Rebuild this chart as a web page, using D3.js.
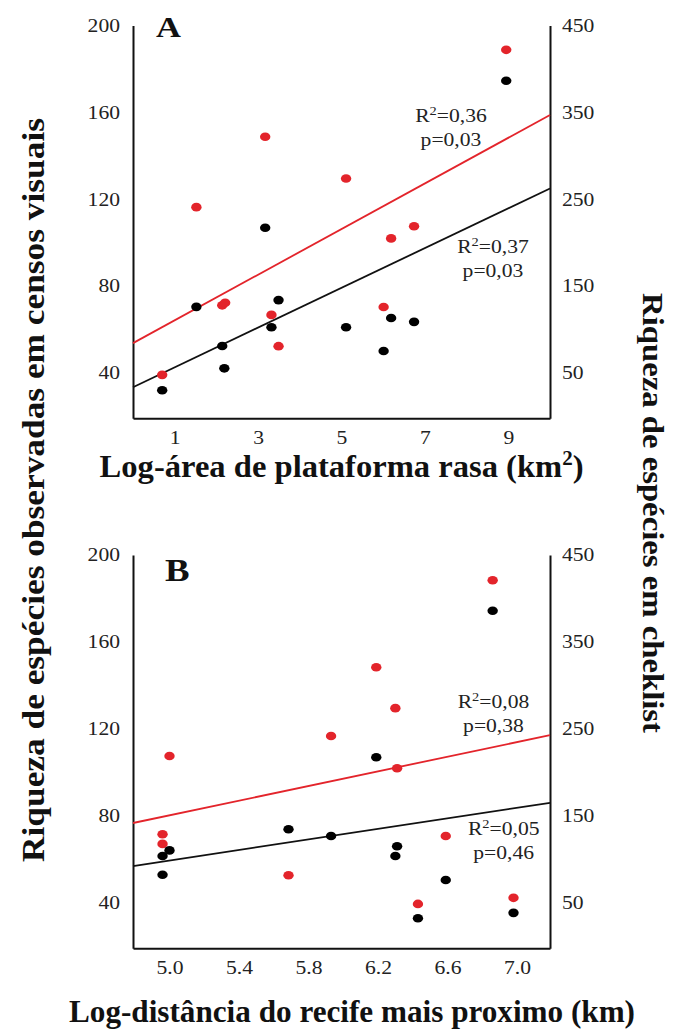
<!DOCTYPE html>
<html><head><meta charset="utf-8">
<script src="https://cdn.jsdelivr.net/npm/d3@7"></script>
<style>body{margin:0;background:#fff}svg{display:block}</style>
</head><body>
<svg id="chart" width="674" height="1029"></svg>
<script>
// ---------- DATA ----------
const leftTicks = [40, 80, 120, 160, 200];
const rightTicks = [50, 150, 250, 350, 450];
const xTicksA = [1, 3, 5, 7, 9];
const xTicksB = [5.0, 5.4, 5.8, 6.2, 6.6, 7.0];
const leftDomain = [19.2, 200];
const rightDomain = [-2, 450];
const xDomainA = [0, 10];
const xDomainB = [4.79, 7.19];

// Panel A: log-area of shallow platform
const areaVisual = [0.70, 1.52, 2.14, 2.19, 3.17, 3.32, 3.49, 5.11, 6.01, 6.19, 6.74, 8.95];
const richVisualA = [32.1, 70.5, 52.5, 42.2, 106.9, 61.1, 73.6, 61.1, 50.2, 65.4, 63.6, 174.6];
const areaChecklist = [0.70, 1.52, 2.14, 2.21, 3.17, 3.32, 3.49, 5.11, 6.01, 6.19, 6.74, 8.95];
const richChecklistA = [48, 241, 128, 131, 322, 117, 81, 274, 126, 205, 219, 422];

// Panel B: log-distance to nearest reef
const distVisual = [4.96, 5.00, 4.96, 5.685, 5.93, 6.19, 6.31, 6.30, 6.43, 6.59, 6.98, 6.86];
const richVisualB = [61.6, 64.2, 53.0, 73.9, 70.8, 107, 66.1, 61.6, 33, 50.6, 35.5, 174.4];
const distChecklist = [4.96, 4.96, 5.00, 5.685, 5.93, 6.31, 6.19, 6.30, 6.43, 6.59, 6.98, 6.86];
const richChecklistB = [129, 118, 219, 82, 242, 205, 321, 274, 49, 127, 56, 421];

// Regression line end points [x, y]
const fitVisualA = [[0, 33.5], [10, 125]];
const fitChecklistA = [[0, 84.5], [10, 347]];
const fitVisualB = [[4.79, 57.0], [7.19, 86.1]];
const fitChecklistB = [[4.79, 142], [7.19, 243]];

// Statistics [R2, p]
const statsChecklistA = ["0,36", "0,03"];
const statsVisualA = ["0,37", "0,03"];
const statsChecklistB = ["0,08", "0,38"];
const statsVisualB = ["0,05", "0,46"];

const titleA = ["Log-área de plataforma rasa (km", "2", ")"];
const titleB = "Log-distância do recife mais proximo (km)";
const titleLeft = "Riqueza de espécies observadas em censos visuais";
const titleRight = "Riqueza de espécies em cheklist";

// ---------- STYLE / LAYOUT ----------
const FONT = "'Liberation Serif','Times New Roman',serif";
const RED = "#e3242b";
const svg = d3.select("#chart");
svg.append("rect").attr("width", 674).attr("height", 1029).attr("fill", "#fff");

function stretch(sel, f) {
  sel.each(function () {
    const w = this.getComputedTextLength();
    this.setAttribute("textLength", w * f);
    this.setAttribute("lengthAdjust", "spacingAndGlyphs");
  });
}

function statText(g, cx, by, vals) {
  const t1 = g.append("text").attr("x", cx).attr("y", by).attr("text-anchor", "middle")
    .attr("font-family", FONT).attr("font-size", 18).attr("fill", "#222");
  t1.append("tspan").text("R");
  t1.append("tspan").attr("font-size", 12).attr("dy", -7).text("2");
  t1.append("tspan").attr("dy", 7).text("=" + vals[0]);
  const t2 = g.append("text").attr("x", cx).attr("y", by + 24).attr("text-anchor", "middle")
    .attr("font-family", FONT).attr("font-size", 18).attr("fill", "#222").text("p=" + vals[1]);
  stretch(t1, 1.2); stretch(t2, 1.2);
}

function panel(cfg) {
  const x = d3.scaleLinear().domain(cfg.xDomain).range([133, 550]);
  const yL = d3.scaleLinear().domain(leftDomain).range([cfg.bottom, cfg.top]);
  const yR = d3.scaleLinear().domain(rightDomain).range([cfg.bottom, cfg.top]);
  const g = svg.append("g");

  const styleAxis = (a) => {
    a.select(".domain").attr("stroke", "#111").attr("stroke-width", 2);
    a.selectAll(".tick line").remove();
    a.selectAll(".tick text").attr("font-family", FONT).attr("font-size", 18).attr("fill", "#222");
    stretch(a.selectAll(".tick text"), 1.2);
  };

  const aL = g.append("g").attr("transform", "translate(133,0)")
    .call(d3.axisLeft(yL).tickValues(leftTicks).tickSize(0).tickPadding(13));
  styleAxis(aL);
  const aR = g.append("g").attr("transform", "translate(550,0)")
    .call(d3.axisRight(yR).tickValues(rightTicks).tickSize(0).tickPadding(12));
  styleAxis(aR);
  const aB = g.append("g").attr("transform", `translate(0,${cfg.bottom})`)
    .call(d3.axisBottom(x).tickValues(cfg.xTicks).tickFormat(cfg.fmt).tickSize(0).tickPadding(13));
  styleAxis(aB);

  const line = (ys) => d3.line().x(d => x(d[0])).y(d => ys(d[1]));
  g.append("path").attr("d", line(yR)(cfg.fitR)).attr("fill", "none").attr("stroke", RED).attr("stroke-width", 1.8);
  g.append("path").attr("d", line(yL)(cfg.fitL)).attr("fill", "none").attr("stroke", "#111").attr("stroke-width", 1.8);

  g.append("g").selectAll("ellipse").data(d3.range(cfg.xR.length)).join("ellipse")
    .attr("cx", i => x(cfg.xR[i])).attr("cy", i => yR(cfg.vR[i]))
    .attr("rx", 5.2).attr("ry", 4.3).attr("fill", RED);
  g.append("g").selectAll("ellipse").data(d3.range(cfg.xL.length)).join("ellipse")
    .attr("cx", i => x(cfg.xL[i])).attr("cy", i => yL(cfg.vL[i]))
    .attr("rx", 5.2).attr("ry", 4.3).attr("fill", "#000");

  const letter = g.append("text").attr("x", cfg.letterPos[0]).attr("y", cfg.letterPos[1])
    .attr("font-family", FONT).attr("font-weight", "bold").attr("font-size", cfg.letterSize)
    .attr("fill", "#111").text(cfg.letter);
  stretch(letter, 1.15);

  statText(g, cfg.statR[0], cfg.statR[1], cfg.statsR);
  statText(g, cfg.statL[0], cfg.statL[1], cfg.statsL);
}

panel({
  top: 25.5, bottom: 418.3, xDomain: xDomainA, xTicks: xTicksA, fmt: d3.format("d"),
  xL: areaVisual, vL: richVisualA, xR: areaChecklist, vR: richChecklistA,
  fitL: fitVisualA, fitR: fitChecklistA,
  letter: "A", letterPos: [156, 36.7], letterSize: 30,
  statR: [451, 122], statsR: statsChecklistA, statL: [493, 253.3], statsL: statsVisualA
});
panel({
  top: 555, bottom: 948.3, xDomain: xDomainB, xTicks: xTicksB, fmt: d3.format(".1f"),
  xL: distVisual, vL: richVisualB, xR: distChecklist, vR: richChecklistB,
  fitL: fitVisualB, fitR: fitChecklistB,
  letter: "B", letterPos: [165, 580.7], letterSize: 32,
  statR: [493.5, 708.3], statsR: statsChecklistB, statL: [503.7, 835], statsL: statsVisualB
});

// Titles
const tA = svg.append("text").attr("x", 99.6).attr("y", 477).attr("font-family", FONT)
  .attr("font-weight", "bold").attr("font-size", 31).attr("fill", "#111");
tA.append("tspan").text(titleA[0]);
tA.append("tspan").attr("font-size", 20).attr("dy", -12).text(titleA[1]);
tA.append("tspan").attr("dy", 12).text(titleA[2]);
tA.attr("textLength", 484).attr("lengthAdjust", "spacingAndGlyphs");

svg.append("text").attr("x", 69).attr("y", 1022).attr("font-family", FONT)
  .attr("font-weight", "bold").attr("font-size", 32).attr("fill", "#111")
  .attr("textLength", 566).attr("lengthAdjust", "spacingAndGlyphs").text(titleB);

svg.append("text").attr("transform", "translate(44,490) rotate(-90)").attr("text-anchor", "middle")
  .attr("font-family", FONT).attr("font-weight", "bold").attr("font-size", 32).attr("fill", "#111")
  .attr("textLength", 744).attr("lengthAdjust", "spacingAndGlyphs").text(titleLeft);

svg.append("text").attr("transform", "translate(643,513) rotate(90)").attr("text-anchor", "middle")
  .attr("font-family", FONT).attr("font-weight", "bold").attr("font-size", 29).attr("fill", "#111")
  .attr("textLength", 440).attr("lengthAdjust", "spacingAndGlyphs").text(titleRight);
</script>
</body></html>
